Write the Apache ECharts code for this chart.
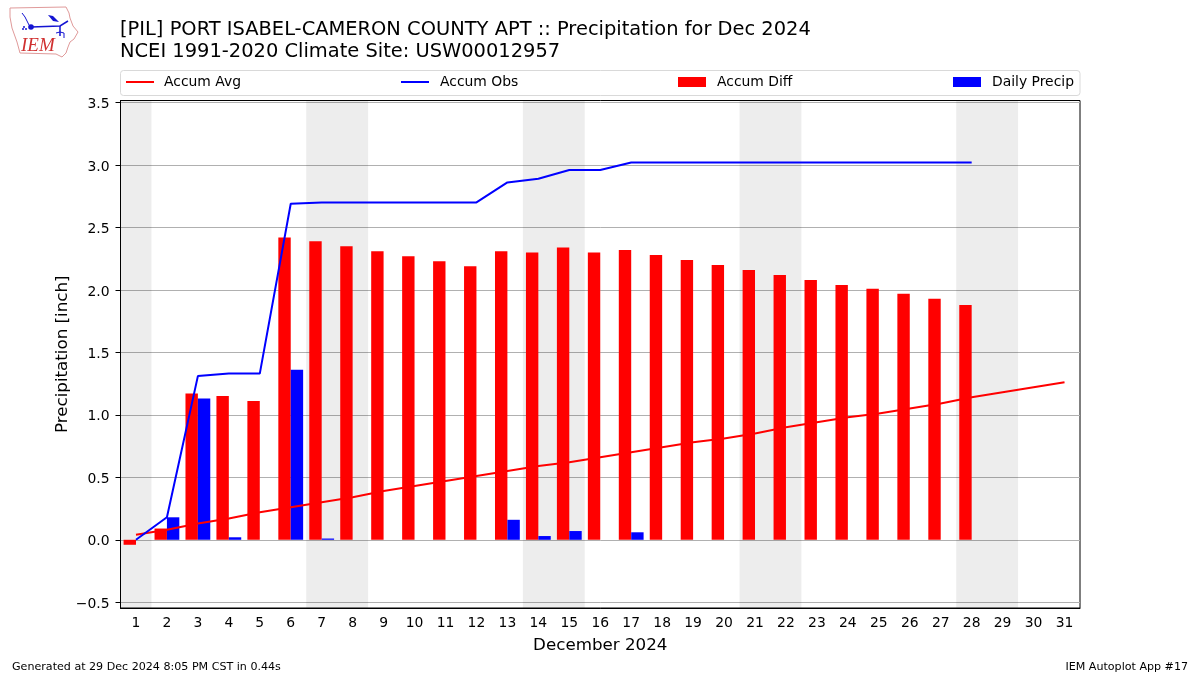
<!DOCTYPE html>
<html><head><meta charset="utf-8">
<style>html,body{margin:0;padding:0;background:#fff}#c{width:1200px;height:675px}</style>
<script src="https://cdn.jsdelivr.net/npm/echarts@6/dist/echarts.min.js"></script>
</head><body><div id="c"></div>
<script>
const days = ['1','2','3','4','5','6','7','8','9','10','11','12','13','14','15','16','17','18','19','20','21','22','23','24','25','26','27','28','29','30','31'];
const accumAvg = [0.04,0.08,0.13,0.17,0.22,0.26,0.30,0.34,0.39,0.43,0.47,0.51,0.55,0.59,0.62,0.66,0.70,0.74,0.78,0.81,0.85,0.90,0.94,0.98,1.01,1.05,1.09,1.14,1.18,1.22,1.26];
const accumObs = [0,0.18,1.31,1.33,1.33,2.69,2.70,2.70,2.70,2.70,2.70,2.70,2.86,2.89,2.96,2.96,3.02,3.02,3.02,3.02,3.02,3.02,3.02,3.02,3.02,3.02,3.02,3.02,null,null,null];
const accumDiff = [-0.04,0.09,1.17,1.15,1.11,2.42,2.39,2.35,2.31,2.27,2.23,2.19,2.31,2.30,2.34,2.30,2.32,2.28,2.24,2.20,2.16,2.12,2.08,2.04,2.01,1.97,1.93,1.88,null,null,null];
const dailyPrecip = [0,0.18,1.13,0.02,0,1.36,0.01,0,0,0,0,0,0.16,0.03,0.07,0,0.06,0,0,0,0,0,0,0,0,0,0,0,null,null,null];
const yTicks = [-0.5,0,0.5,1,1.5,2,2.5,3,3.5];
const weekendBands = [[0.5,1.5],[6.5,8.5],[13.5,15.5],[20.5,22.5],[27.5,29.5]];
const titleText = '[PIL] PORT ISABEL-CAMERON COUNTY APT :: Precipitation for Dec 2024\nNCEI 1991-2020 Climate Site: USW00012957';
const FONT = 'DejaVu Sans';
const chart = echarts.init(document.getElementById('c'), null, {renderer:'canvas'});
const legendCommon = {top:75, itemGap:0, padding:0, itemWidth:28, textStyle:{fontFamily:FONT,fontSize:13.9,color:'#000',padding:[1,0,0,6]}};
const BLUE = '#1414d2';
chart.setOption({
  animation:false,
  backgroundColor:'#fff',
  textStyle:{fontFamily:FONT},
  title:[
    {text:titleText,left:120,top:18.5,padding:0,textStyle:{fontFamily:FONT,fontSize:19.45,fontWeight:'normal',color:'#000',lineHeight:22.5}},
    {text:'Generated at 29 Dec 2024 8:05 PM CST in 0.44s',left:12,top:662,padding:0,textStyle:{fontFamily:FONT,fontSize:11.1,fontWeight:'normal',color:'#000'}},
    {text:'IEM Autoplot App #17',right:12,top:662,padding:0,textStyle:{fontFamily:FONT,fontSize:11.1,fontWeight:'normal',color:'#000'}}
  ],
  legend:[
    {...legendCommon,left:126,itemHeight:2,icon:'rect',data:['Accum Avg'],textStyle:{...legendCommon.textStyle,padding:[1,0,0,5]}},
    {...legendCommon,left:401,itemHeight:2,icon:'rect',data:['Accum Obs']},
    {...legendCommon,left:678,itemHeight:10,icon:'rect',data:['Accum Diff']},
    {...legendCommon,left:953,itemHeight:10,icon:'rect',data:['Daily Precip']}
  ],
  grid:{left:120.5,right:120,top:100.5,bottom:67,show:true,borderColor:'#000',borderWidth:1,backgroundColor:'transparent'},
  xAxis:[
    {type:'category',data:days,boundaryGap:true,position:'bottom',
     name:'December 2024',nameLocation:'middle',nameGap:29,nameTextStyle:{fontFamily:FONT,fontSize:16.7,color:'#000'},
     axisLine:{onZero:false,lineStyle:{color:'#000',width:1}},
     axisTick:{alignWithLabel:true,length:5,lineStyle:{color:'#000'}},
     axisLabel:{interval:0,margin:8,fontFamily:FONT,fontSize:13.9,color:'#000'},splitLine:{show:false}},
    {type:'value',min:0.5,max:31.5,show:false}
  ],
  yAxis:{type:'value',min:-0.546,max:3.516,
     name:'Precipitation [inch]',nameLocation:'middle',nameGap:49,nameRotate:90,nameMoveOverlap:false,nameTextStyle:{fontFamily:FONT,fontSize:16.7,color:'#000'},
     axisLine:{show:true,lineStyle:{color:'#000'}},
     axisTick:{show:true,length:5,lineStyle:{color:'#000'},customValues:yTicks},
     axisLabel:{margin:11,fontFamily:FONT,fontSize:13.9,color:'#000',customValues:yTicks,
       formatter:v=>'{t|'+(v<0?'\u2212':'')+Math.abs(v).toFixed(1)+'}',
       rich:{t:{fontFamily:FONT,fontSize:13.9,color:'#000',padding:[4,0,0,0]}}},
     splitLine:{show:true,lineStyle:{color:'#b0b0b0',width:1}}},
  series:[
    {name:'Weekend',type:'line',xAxisIndex:1,data:[],silent:true,z:1,
     markArea:{silent:true,itemStyle:{color:'rgba(0,0,0,0.072)'},
       data:weekendBands.map(b=>[{xAxis:b[0]},{xAxis:b[1]}])}},
    {name:'Accum Diff',type:'bar',data:accumDiff,barWidth:12.4,barGap:0,itemStyle:{color:'#ff0000'},z:3},
    {name:'Daily Precip',type:'bar',data:dailyPrecip,barWidth:12.4,barGap:0,itemStyle:{color:'#0000ff'},z:3},
    {name:'Accum Avg',type:'line',data:accumAvg,showSymbol:false,lineStyle:{color:'#ff0000',width:2},itemStyle:{color:'#ff0000'},z:4},
    {name:'Accum Obs',type:'line',data:accumObs,showSymbol:false,lineStyle:{color:'#0000ff',width:2},itemStyle:{color:'#0000ff'},z:4}
  ],
  graphic:[
    {type:'rect',silent:true,z:-1,shape:{x:120.5,y:70.5,width:959.5,height:25,r:3},style:{fill:'#fff',stroke:'#d9d9d9',lineWidth:1}},
    {type:'group',silent:true,children:[
      {type:'polyline',shape:{points:[[10,8],[66,7],[69,13],[70,18],[73,26],[78,32],[74,39],[70,42],[68,47],[66,53],[62,57],[56,54],[20,53],[17,42],[12,28],[10,17],[10,8]]},style:{fill:'none',stroke:'#e09a9a',lineWidth:1}},
      {type:'text',style:{text:'IEM',x:21,y:36,fill:'#d03030',font:'italic 19px "Liberation Serif"'}},
      {type:'polyline',shape:{points:[[31,27],[60,26],[68,21]]},style:{fill:'none',stroke:BLUE,lineWidth:1.5}},
      {type:'polyline',shape:{points:[[60,26],[60,36]]},style:{fill:'none',stroke:BLUE,lineWidth:1.5}},
      {type:'circle',shape:{cx:31,cy:27,r:2.8},style:{fill:BLUE}},
      {type:'polyline',shape:{points:[[22,13],[25,17],[29,25]]},style:{fill:'none',stroke:BLUE,lineWidth:1}},
      {type:'polygon',shape:{points:[[48,15],[53,16],[59,22],[53,21]]},style:{fill:BLUE}},
      {type:'polyline',shape:{points:[[56,33],[60,32],[64,33],[64,38]]},style:{fill:'none',stroke:BLUE,lineWidth:1}},
      {type:'circle',shape:{cx:24,cy:27,r:1},style:{fill:BLUE}},
      {type:'circle',shape:{cx:26,cy:29,r:1},style:{fill:BLUE}},
      {type:'circle',shape:{cx:23,cy:29,r:1},style:{fill:BLUE}}
    ]}
  ]
});
</script></body></html>
